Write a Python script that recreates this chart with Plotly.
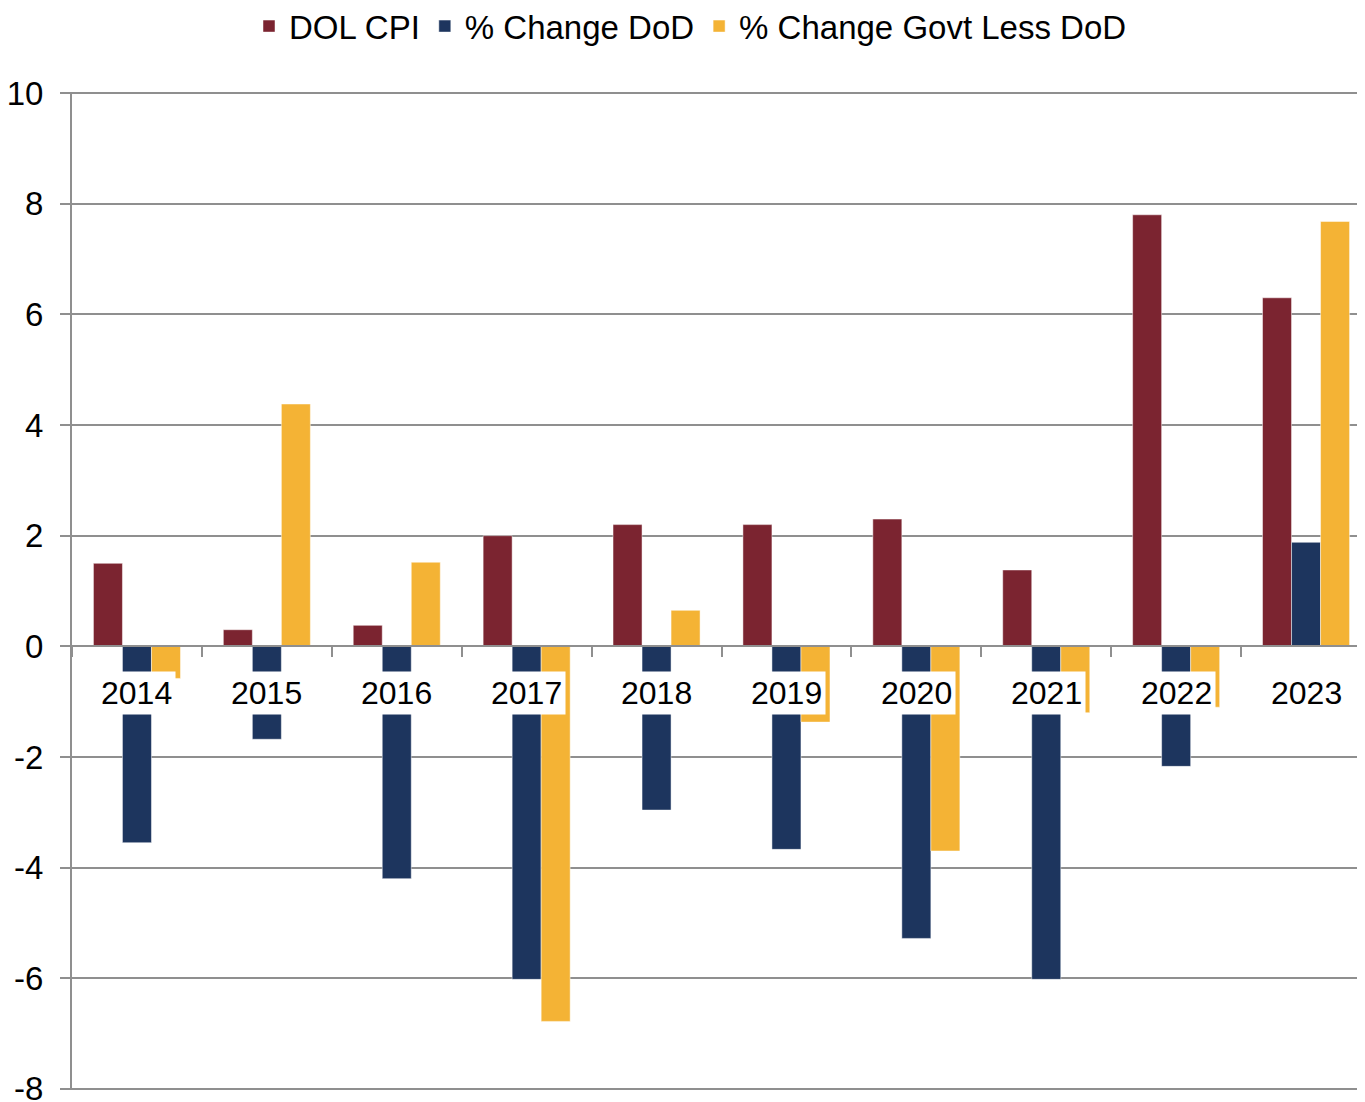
import plotly.graph_objects as go

years = ["2014", "2015", "2016", "2017", "2018", "2019", "2020", "2021", "2022", "2023"]
dol_cpi = [1.5, 0.3, 0.38, 2.0, 2.2, 2.2, 2.3, 1.38, 7.8, 6.3]
chg_dod = [-3.55, -1.68, -4.2, -6.02, -2.96, -3.67, -5.28, -6.02, -2.17, 1.88]
chg_govt_less_dod = [-0.58, 4.38, 1.52, -6.78, 0.65, -1.37, -3.7, -1.2, -1.1, 7.68]

y_tickvals = [-8, -6, -4, -2, 0, 2, 4, 6, 8, 10]
y_ticktext = ["-8", "-6", "-4", "-2", "0", "2", "4", "6", "8", "10"]

series_names = ["DOL CPI", "% Change DoD", "% Change Govt Less DoD"]
colors = ["#7B2430", "#1D355E", "#F4B335"]

FONT = "Liberation Sans, Arial, sans-serif"
GRID = "#8F8F8F"

fig = go.Figure()
for name, vals, col in zip(series_names, [dol_cpi, chg_dod, chg_govt_less_dod], colors):
    fig.add_trace(go.Bar(x=years, y=vals, name=name,
                         marker=dict(color=col, line=dict(color="rgba(255,255,255,0.6)", width=0.8))))

for i, yr in enumerate(years):
    fig.add_annotation(x=i, y=-0.85, xref="x", yref="y", text=yr, showarrow=False,
                       bgcolor="white", borderpad=3,
                       font=dict(family=FONT, size=32, color="black"))

fig.update_layout(
    width=1365, height=1102,
    margin=dict(l=64, r=2, t=84, b=20, autoexpand=False),
    paper_bgcolor="white", plot_bgcolor="white",
    barmode="group", bargap=0.33, bargroupgap=0,
    font=dict(family=FONT, size=32, color="black"),
    legend=dict(orientation="h", x=0.5, xanchor="center", xref="container",
                y=1.066, yanchor="middle", yref="paper",
                font=dict(family=FONT, size=33, color="black"),
                itemwidth=30, bgcolor="rgba(0,0,0,0)"),
    showlegend=True,
)
fig.update_xaxes(type="category", range=[-0.5, 9.5], showticklabels=False,
                 anchor="free", position=8.02/18.04, automargin=False,
                 showline=True, linecolor=GRID, linewidth=2,
                 ticks="outside", tickson="boundaries", ticklen=10, tickwidth=2, tickcolor=GRID,
                 showgrid=False, zeroline=False)
fig.update_yaxes(range=[-8.02, 10.02], tickvals=y_tickvals, ticktext=y_ticktext,
                 automargin=False,
                 showgrid=True, gridcolor=GRID, gridwidth=2,
                 zeroline=True, zerolinecolor=GRID, zerolinewidth=2,
                 showline=True, linecolor=GRID, linewidth=2,
                 ticks="outside", ticklen=10, tickwidth=2, tickcolor=GRID,
                 ticklabelstandoff=10,
                 tickfont=dict(family=FONT, size=33, color="black"))

fig.write_html("out.html")
